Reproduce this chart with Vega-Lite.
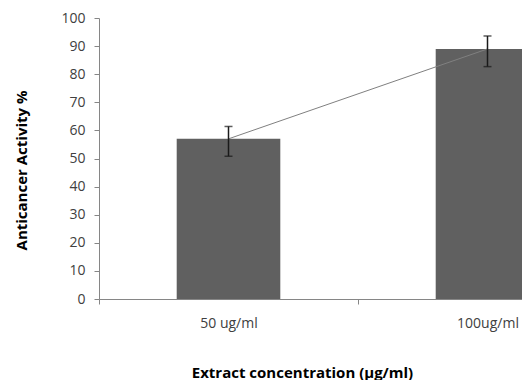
{
  "$schema": "https://vega.github.io/schema/vega-lite/v6.json",
  "width": 423,
  "height": 281,
  "autosize": {"type": "none"},
  "padding": {"left": 99, "top": 18, "right": 0, "bottom": 81},
  "config": {
    "view": {"stroke": null},
    "font": "Open Sans",
    "axisY": {
      "grid": false, "domainColor": "#868686", "tickColor": "#868686", "tickSize": 5,
      "labelColor": "#404040", "labelFontSize": 14, "labelPadding": 9, "labelOverlap": false,
      "titleFontSize": 15, "titleFontWeight": "bold", "titleColor": "#000000",
      "titleX": -78, "titleY": 152, "titleAngle": 270, "titleAlign": "center", "titleBaseline": "middle"
    }
  },
  "data": {"values": [
    {"conc": "50 ug/ml", "activity": 57, "lo": 50.8, "hi": 61.4},
    {"conc": "100ug/ml", "activity": 89, "lo": 82.7, "hi": 93.6}
  ]},
  "encoding": {
    "x": {
      "field": "conc", "type": "nominal", "sort": null,
      "scale": {"type": "band", "range": [0, 518], "paddingInner": 0, "paddingOuter": 0},
      "axis": {
        "labelAngle": 0, "domainColor": "#868686", "tickColor": "#868686", "tickSize": 5,
        "tickBand": "extent", "labelColor": "#404040", "labelFontSize": 14, "labelPadding": 12,
        "title": "Extract concentration (µg/ml)", "titleFontWeight": "bold", "titleFontSize": 15,
        "titleColor": "#000000", "titleX": 203, "titleY": 73, "titleBaseline": "middle", "titleAlign": "center"
      }
    }
  },
  "layer": [
    {
      "mark": {"type": "bar", "color": "#606060", "width": {"band": 0.4}, "clip": true},
      "encoding": {
        "y": {
          "field": "activity", "type": "quantitative",
          "scale": {"domain": [0, 100], "nice": false},
          "axis": {"values": [0, 10, 20, 30, 40, 50, 60, 70, 80, 90, 100], "title": "Anticancer Activity %"}
        }
      }
    },
    {
      "mark": {"type": "line", "color": "#808080", "strokeWidth": 1},
      "encoding": {"y": {"field": "activity", "type": "quantitative",
        "axis": {"values": [0, 10, 20, 30, 40, 50, 60, 70, 80, 90, 100], "title": "Anticancer Activity %"}}}
    },
    {
      "mark": {"type": "rule", "color": "#1a1a1a", "strokeWidth": 1.5},
      "encoding": {"y": {"field": "lo", "type": "quantitative",
        "axis": {"values": [0, 10, 20, 30, 40, 50, 60, 70, 80, 90, 100], "title": "Anticancer Activity %"}}, "y2": {"field": "hi"}}
    },
    {
      "mark": {"type": "tick", "color": "#1a1a1a", "size": 8, "thickness": 1.5, "orient": "horizontal"},
      "encoding": {"y": {"field": "lo", "type": "quantitative",
        "axis": {"values": [0, 10, 20, 30, 40, 50, 60, 70, 80, 90, 100], "title": "Anticancer Activity %"}}}
    },
    {
      "mark": {"type": "tick", "color": "#1a1a1a", "size": 8, "thickness": 1.5, "orient": "horizontal"},
      "encoding": {"y": {"field": "hi", "type": "quantitative",
        "axis": {"values": [0, 10, 20, 30, 40, 50, 60, 70, 80, 90, 100], "title": "Anticancer Activity %"}}}
    }
  ]
}
